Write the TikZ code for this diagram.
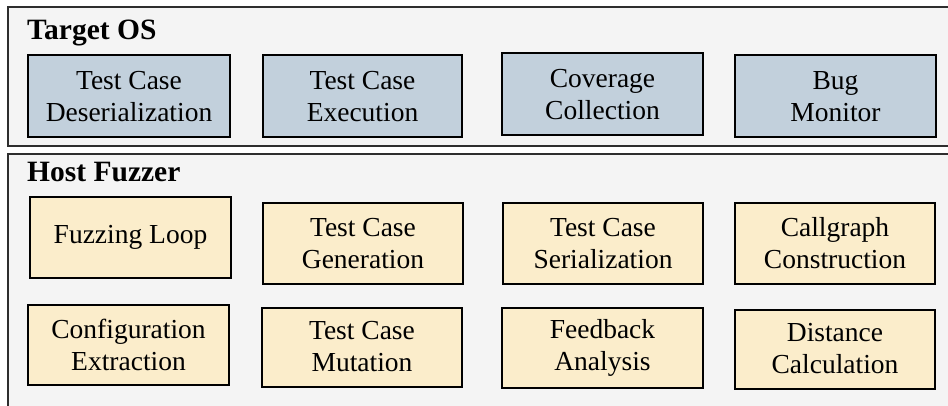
\documentclass[tikz,border=0pt]{standalone}
\usepackage{fontspec}
\setmainfont{Liberation Serif}
\definecolor{bgc}{HTML}{F4F4F4}
\definecolor{osfill}{HTML}{C2D0DC}
\definecolor{hostfill}{HTML}{FBEDCB}
\definecolor{framec}{HTML}{2E2E2E}
\tikzset{
  frame/.style={draw=framec, line width=1.6pt, fill=bgc},
  modbox/.style={draw=black, line width=2pt, align=center, inner sep=0pt,
    font=\fontsize{27.5}{32}\selectfont, text=black},
  osbox/.style={modbox, fill=osfill},
  hostbox/.style={modbox, fill=hostfill},
  title/.style={anchor=base west, inner sep=0pt, font=\fontsize{29.5}{32}\selectfont\bfseries}
}
\begin{document}
\begin{tikzpicture}[x=1pt,y=-1pt]
\useasboundingbox (0,0) rectangle (948,406);
\clip (0,0) rectangle (948,406);
\fill[white] (0,0) rectangle (948,406);
\draw[frame] (8,7) rectangle (990,146);
\draw[frame] (8,154) rectangle (990,460);
\node[title] (tos) at (27,40) {Target OS};
\node[title] (hf) at (27,182) {Host Fuzzer};
% Target OS row
\node[osbox, minimum width=202, minimum height=82] (t1) at (129,96.5) {Test Case\\Deserialization};
\node[osbox, minimum width=199, minimum height=82] (t2) at (362.5,96.5) {Test Case\\Execution};
\node[osbox, minimum width=201, minimum height=82] (t3) at (602.5,94.5) {Coverage\\Collection};
\node[osbox, minimum width=201, minimum height=82] (t4) at (835.5,96.5) {Bug\\Monitor};
% Host row 1
\node[hostbox, minimum width=201, minimum height=80] (h1) at (130.5,237.5) {Fuzzing Loop};
\node[hostbox, minimum width=200, minimum height=80] (h2) at (363,243.5) {Test Case\\Generation};
\node[hostbox, minimum width=200, minimum height=80] (h3) at (603,243.5) {Test Case\\Serialization};
\node[hostbox, minimum width=200, minimum height=80] (h4) at (835,243.5) {Callgraph\\Construction};
% Host row 2
\node[hostbox, minimum width=201, minimum height=80] (h5) at (128.5,344.5) {Configuration\\Extraction};
\node[hostbox, minimum width=200, minimum height=79] (h6) at (362,347) {Test Case\\Mutation};
\node[hostbox, minimum width=201, minimum height=80] (h7) at (602.5,348) {Feedback\\Analysis};
\node[hostbox, minimum width=200, minimum height=79] (h8) at (835,349) {Distance\\Calculation};
\end{tikzpicture}
\end{document}
